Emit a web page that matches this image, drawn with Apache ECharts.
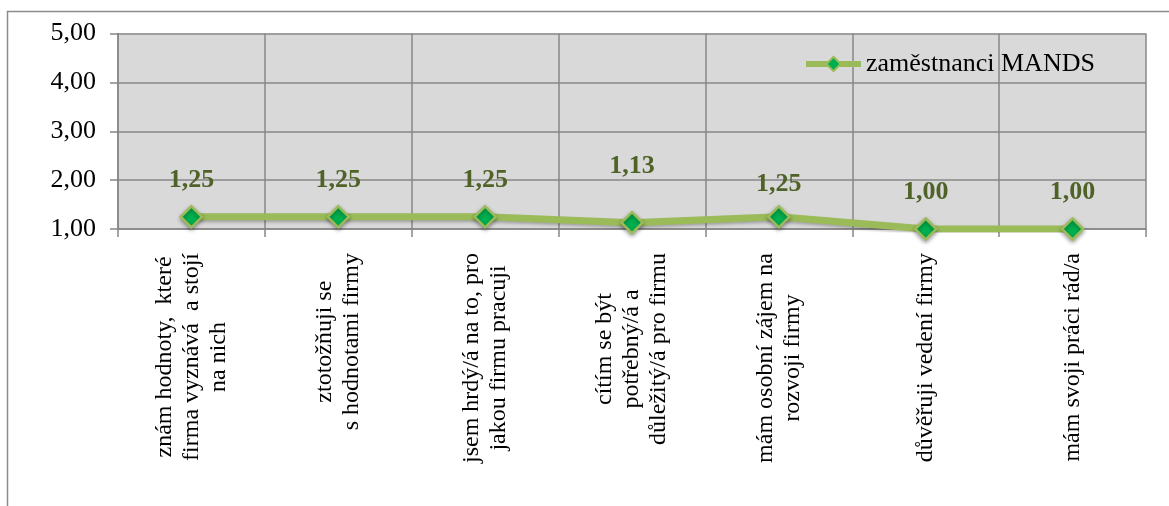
<!DOCTYPE html>
<html>
<head>
<meta charset="utf-8">
<script src="https://cdn.jsdelivr.net/npm/echarts@6/dist/echarts.min.js"></script>
<style>
html,body{margin:0;padding:0;background:#fff;}
#chart{width:1169px;height:506px;}
</style>
</head>
<body>
<div id="chart"></div>
<script>
// ---- data ----
const categories = [
  "znám hodnoty,  které\nfirma vyznává  a stojí\nna nich",
  "ztotožňuji se\ns hodnotami firmy",
  "jsem hrdý/á na to, pro\njakou firmu pracuji",
  "cítím se být\npotřebný/á a\ndůležitý/á pro firmu",
  "mám osobní zájem na\nrozvoji firmy",
  "důvěřuji vedení firmy",
  "mám svoji práci rád/a"
];
const seriesName = "zaměstnanci MANDS";
const values = [1.25, 1.25, 1.25, 1.13, 1.25, 1.00, 1.00];
const yTicks = [1, 2, 3, 4, 5];

// ---- styling ----
const serif = "'Liberation Serif', 'Times New Roman', serif";
const labelShift = [0, 0, 0, -20, 4, 0, 0]; // vertical label adjustment (px)
const gridColor = '#878787';

const chart = echarts.init(document.getElementById('chart'));
const fmt = v => v.toFixed(2).replace('.', ',');

chart.setOption({
  animation: false,
  backgroundColor: '#ffffff',
  graphic: [{
    type: 'polyline',
    shape: { points: [[7.5, 506], [7.5, 11.5], [1169, 11.5]] },
    style: { stroke: '#8c8c8c', lineWidth: 1.5, fill: null },
    silent: true
  }],
  grid: { left: 118, right: 23, top: 33.5, bottom: 277, backgroundColor: '#d9d9d9', show: true, borderWidth: 0 },
  legend: {
    left: 798, top: 46,
    itemWidth: 55, itemHeight: 18, itemGap: 5,
    lineStyle: { width: 6, color: '#9bbb59' },
    itemStyle: { color: '#00b050', borderColor: '#9bbb59', borderWidth: 2 },
    textStyle: { fontFamily: serif, fontSize: 26, color: '#000' },
    data: [seriesName]
  },
  xAxis: {
    type: 'category',
    data: categories,
    boundaryGap: true,
    axisLine: { show: true, lineStyle: { color: gridColor, width: 1.5 } },
    axisTick: { show: true, length: 8, lineStyle: { color: gridColor, width: 1.5 } },
    splitLine: { show: true, lineStyle: { color: gridColor, width: 1.5 } },
    axisLabel: {
      interval: 0, rotate: 90, margin: 24,
      fontFamily: serif, fontSize: 24, color: '#000', lineHeight: 27,
      formatter: v => v.split('\n').map(l => '{c|' + l + '}').join('\n'),
      rich: { c: { align: 'center', fontFamily: serif, fontSize: 24, color: '#000', lineHeight: 27 } }
    }
  },
  yAxis: {
    type: 'value',
    min: yTicks[0], max: yTicks[yTicks.length - 1], interval: 1,
    axisLine: { show: true, lineStyle: { color: gridColor, width: 1.5 } },
    axisTick: { show: true, length: 8, lineStyle: { color: gridColor, width: 1.5 } },
    splitLine: { show: true, lineStyle: { color: gridColor, width: 1.5 } },
    axisLabel: { margin: 22, fontFamily: serif, fontSize: 26, color: '#000', formatter: fmt }
  },
  series: [{
    name: seriesName,
    type: 'line',
    data: values.map((v, i) => ({
      value: v,
      label: { offset: [0, labelShift[i]] }
    })),
    symbol: 'diamond',
    symbolSize: 21,
    lineStyle: { color: '#9bbb59', width: 7, shadowColor: 'rgba(0,0,0,0.25)', shadowBlur: 3, shadowOffsetY: 2 },
    itemStyle: { color: '#00b050', borderColor: '#9bbb59', borderWidth: 2.5, shadowColor: 'rgba(0,0,0,0.35)', shadowBlur: 4, shadowOffsetY: 2 },
    label: {
      show: true, position: 'top', distance: 12,
      fontFamily: serif, fontSize: 26, fontWeight: 'bold', color: '#4f6228',
      formatter: p => fmt(p.value)
    }
  }]
});
</script>
</body>
</html>
